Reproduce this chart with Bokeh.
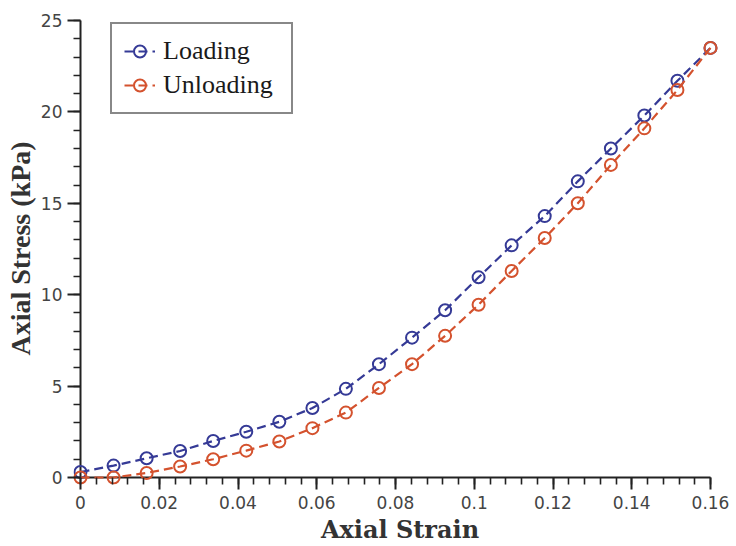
from bokeh.plotting import figure
from bokeh.models import Range1d, FixedTicker, Legend, LegendItem
from bokeh.embed import file_html
from bokeh.resources import INLINE

# ---- data ----
strain = [0.0, 0.0084, 0.0168, 0.0253, 0.0337, 0.0421, 0.0505, 0.0589, 0.0674, 0.0758,
          0.0842, 0.0926, 0.1011, 0.1095, 0.1179, 0.1263, 0.1347, 0.1432, 0.1516, 0.16]
loading = [0.3, 0.65, 1.05, 1.45, 2.0, 2.5, 3.05, 3.8, 4.85, 6.2,
           7.65, 9.15, 10.95, 12.7, 14.3, 16.2, 18.0, 19.8, 21.7, 23.5]
unloading = [0.0, 0.0, 0.25, 0.6, 1.0, 1.47, 1.97, 2.7, 3.55, 4.9,
             6.2, 7.75, 9.45, 11.3, 13.1, 15.0, 17.1, 19.1, 21.2, 23.5]

x_ticks = [0, 0.02, 0.04, 0.06, 0.08, 0.1, 0.12, 0.14, 0.16]
x_tick_labels = ["0", "0.02", "0.04", "0.06", "0.08", "0.1", "0.12", "0.14", "0.16"]
y_ticks = [0, 5, 10, 15, 20, 25]
y_tick_labels = ["0", "5", "10", "15", "20", "25"]
series_names = ["Loading", "Unloading"]

# ---- geometry ----
FRAME_W, FRAME_H = 653, 472
X_PAD_L, X_PAD_R = 7, 16        # px between frame edge and data extent
Y_PAD_B, Y_PAD_T = 7, 8
x_ppu = (FRAME_W - X_PAD_L - X_PAD_R) / (x_ticks[-1] - x_ticks[0])
y_ppu = (FRAME_H - Y_PAD_B - Y_PAD_T) / (y_ticks[-1] - y_ticks[0])
x_start = x_ticks[0] - X_PAD_L / x_ppu
x_end = x_ticks[-1] + X_PAD_R / x_ppu
y_start = y_ticks[0] - Y_PAD_B / y_ppu
y_end = y_ticks[-1] + Y_PAD_T / y_ppu

BLUE = "#353a96"
RED = "#d4522e"
AX = "#222222"

p = figure(frame_width=FRAME_W, frame_height=FRAME_H,
           output_backend="svg", toolbar_location=None,
           x_range=Range1d(x_start, x_end), y_range=Range1d(y_start, y_end),
           min_border_left=73, min_border_right=10, min_border_top=12, min_border_bottom=62)
p.xgrid.visible = False
p.ygrid.visible = False
p.outline_line_color = None
p.background_fill_color = "white"
p.border_fill_color = "white"

# axes lines drawn at data zero
p.segment(x0=[x_ticks[0]], y0=[y_ticks[0]], x1=[x_ticks[-1]], y1=[y_ticks[0]],
          line_color=AX, line_width=2)
p.segment(x0=[x_ticks[0]], y0=[y_ticks[0]], x1=[x_ticks[0]], y1=[y_ticks[-1]],
          line_color=AX, line_width=2)

x_minor = [round(i * 0.004, 4) for i in range(41)]
y_minor = list(range(0, 26))

xa = p.xaxis[0]
xa.ticker = FixedTicker(ticks=x_ticks, minor_ticks=x_minor)
xa.major_label_overrides = {t: l for t, l in zip(x_ticks, x_tick_labels)}
xa.bounds = (x_ticks[0], x_ticks[-1])
xa.axis_line_color = None
xa.major_tick_in = Y_PAD_B
xa.major_tick_out = 5
xa.minor_tick_in = Y_PAD_B
xa.minor_tick_out = 0
xa.major_tick_line_color = AX
xa.minor_tick_line_color = AX
xa.major_tick_line_width = 2
xa.minor_tick_line_width = 1.6
xa.major_label_text_font = "DejaVu Sans"
xa.major_label_text_font_size = "17px"
xa.major_label_text_color = "#444444"
xa.major_label_standoff = 6
xa.axis_label = "Axial Strain"
xa.axis_label_text_font = "DejaVu Serif"
xa.axis_label_text_font_style = "bold"
xa.axis_label_text_font_size = "24px"
xa.axis_label_text_color = "#333333"
xa.axis_label_standoff = 3

ya = p.yaxis[0]
ya.ticker = FixedTicker(ticks=y_ticks, minor_ticks=y_minor)
ya.major_label_overrides = {t: l for t, l in zip(y_ticks, y_tick_labels)}
ya.bounds = (y_ticks[0], y_ticks[-1])
ya.axis_line_color = None
ya.major_tick_in = X_PAD_L
ya.major_tick_out = 6
ya.minor_tick_in = X_PAD_L
ya.minor_tick_out = 0
ya.major_tick_line_color = AX
ya.minor_tick_line_color = AX
ya.major_tick_line_width = 2
ya.minor_tick_line_width = 1.6
ya.major_label_text_font = "DejaVu Sans"
ya.major_label_text_font_size = "17px"
ya.major_label_text_color = "#444444"
ya.major_label_standoff = 5
ya.axis_label = "Axial Stress (kPa)"
ya.axis_label_text_font = "Liberation Serif"
ya.axis_label_text_font_style = "bold"
ya.axis_label_text_font_size = "28px"
ya.axis_label_text_color = "#333333"
ya.axis_label_standoff = 2

items = []
for name, ys, col in zip(series_names, [loading, unloading], [BLUE, RED]):
    ln = p.line(strain, ys, line_color=col, line_width=2.2, line_dash="9 5")
    sc = p.scatter(strain, ys, marker="circle", size=12, fill_color=None,
                   line_color=col, line_width=2)
    items.append(LegendItem(label=name, renderers=[ln, sc]))

legend = Legend(items=items, location=(37, 370),
                label_text_font="Liberation Serif", label_text_font_size="26px",
                label_text_color="#1a1a1a",
                glyph_width=31, glyph_height=30, label_height=30, label_width=116,
                spacing=4, padding=12, label_standoff=8, margin=0,
                border_line_color="#111111", border_line_width=2,
                background_fill_color="white", background_fill_alpha=1.0)
p.add_layout(legend)

open("out.html", "w").write(file_html(p, INLINE))
